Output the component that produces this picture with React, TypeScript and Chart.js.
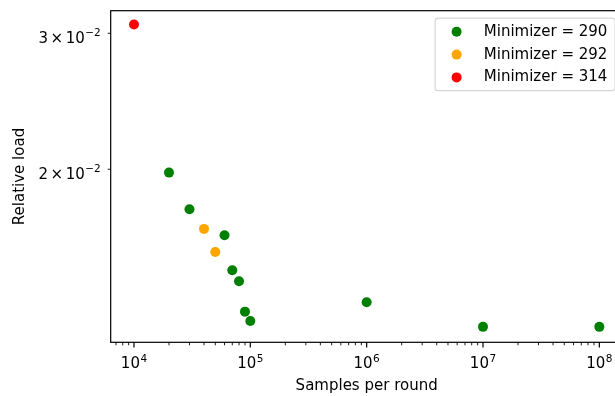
import React, { useEffect, useRef } from 'react';
import { Chart, registerables } from 'chart.js';

Chart.register(...registerables);

// ---- data ----
const samples290 = [2e4, 3e4, 6e4, 7e4, 8e4, 9e4, 1e5, 1e6, 1e7, 1e8];
const load290 = [0.0198, 0.01775, 0.01643, 0.0148, 0.01432, 0.01308, 0.01272, 0.01345, 0.0125, 0.0125];
const samples292 = [4e4, 5e4];
const load292 = [0.01674, 0.01563];
const samples314 = [1e4];
const load314 = [0.0308];

const seriesLabels = ['Minimizer = 290', 'Minimizer = 292', 'Minimizer = 314'];
const seriesColors = ['green', 'orange', 'red'];

const xMajorTicks = [1e4, 1e5, 1e6, 1e7, 1e8];
const xTickExponents = ['4', '5', '6', '7', '8'];
const xMinorMultipliers = [2, 3, 4, 5, 6, 7, 8, 9];
const yTicks = [0.02, 0.03];
const yTickMantissas = ['2', '3'];
const yTickExponent = '\u22122';

const xTitle = 'Samples per round';
const yTitle = 'Relative load';

const X_MIN = Math.pow(10, 3.8);
const X_MAX = Math.pow(10, 8.2);
const Y_MIN = 0.011937;
const Y_MAX = 0.03209;

const FONT = "'DejaVu Sans', sans-serif";
const FS = 15;
const SUP = 10.5;
const RAISE = 6.5;

type Piece = { t: string; s: number; dy?: number; gap?: number };

function drawMath(ctx: CanvasRenderingContext2D, pieces: Piece[], x: number, baseline: number, align: 'center' | 'right') {
  ctx.textAlign = 'left';
  ctx.textBaseline = 'alphabetic';
  const widths = pieces.map((p) => {
    ctx.font = `${p.s}px ${FONT}`;
    return ctx.measureText(p.t).width;
  });
  let total = 0;
  pieces.forEach((p, i) => (total += (p.gap || 0) + widths[i]));
  let cx = align === 'center' ? x - total / 2 : x - total;
  pieces.forEach((p, i) => {
    cx += p.gap || 0;
    ctx.font = `${p.s}px ${FONT}`;
    ctx.fillText(p.t, cx, baseline + (p.dy || 0));
    cx += widths[i];
  });
}

function buildMinorTicks(): number[] {
  const out: number[] = [];
  for (let e = 3; e <= 8; e++) {
    const d = Math.pow(10, e);
    for (const m of xMinorMultipliers) {
      const v = m * d;
      if (v > X_MIN && v < X_MAX) out.push(v);
    }
  }
  return out;
}

const decorPlugin = {
  id: 'decor',
  afterDraw(chart: any) {
    const ctx: CanvasRenderingContext2D = chart.ctx;
    const { left, right, top, bottom } = chart.chartArea;
    const xs = chart.scales.x;
    const ys = chart.scales.y;
    ctx.save();
    ctx.strokeStyle = '#000';
    ctx.fillStyle = '#000';

    // spines
    ctx.lineWidth = 1.2;
    ctx.strokeRect(left, top, right - left, bottom - top);

    // x ticks
    ctx.lineWidth = 1.2;
    xMajorTicks.forEach((v) => {
      const px = xs.getPixelForValue(v);
      ctx.beginPath();
      ctx.moveTo(px, bottom);
      ctx.lineTo(px, bottom + 5.25);
      ctx.stroke();
    });
    ctx.lineWidth = 0.9;
    buildMinorTicks().forEach((v) => {
      const px = xs.getPixelForValue(v);
      ctx.beginPath();
      ctx.moveTo(px, bottom);
      ctx.lineTo(px, bottom + 3);
      ctx.stroke();
    });
    // y ticks (minor)
    yTicks.forEach((v) => {
      const py = ys.getPixelForValue(v);
      ctx.beginPath();
      ctx.moveTo(left - 3, py);
      ctx.lineTo(left, py);
      ctx.stroke();
    });

    // x tick labels
    xMajorTicks.forEach((v, i) => {
      const px = xs.getPixelForValue(v);
      drawMath(ctx, [
        { t: '10', s: FS },
        { t: xTickExponents[i], s: SUP, dy: -RAISE, gap: 0.5 },
      ], px, bottom + 25.7, 'center');
    });
    // y tick labels
    yTicks.forEach((v, i) => {
      const py = ys.getPixelForValue(v);
      drawMath(ctx, [
        { t: yTickMantissas[i], s: FS },
        { t: '\u00d7', s: FS, gap: 2.5 },
        { t: '10', s: FS, gap: 2.5 },
        { t: yTickExponent, s: SUP, dy: -RAISE, gap: 0.5 },
      ], left - 10, py + 9.5, 'right');
    });

    // axis titles
    ctx.font = `${FS}px ${FONT}`;
    ctx.textAlign = 'center';
    ctx.textBaseline = 'alphabetic';
    ctx.fillText(xTitle, (left + right) / 2, 390);
    ctx.save();
    ctx.translate(24, (top + bottom) / 2);
    ctx.rotate(-Math.PI / 2);
    ctx.fillText(yTitle, 0, 0);
    ctx.restore();

    // legend
    const lw = 180;
    const lh = 72.5;
    const lx = right - 7.5 - lw;
    const ly = top + 7.5;
    ctx.beginPath();
    (ctx as any).roundRect(lx, ly, lw, lh, 3);
    ctx.fillStyle = 'rgba(255,255,255,0.8)';
    ctx.fill();
    ctx.strokeStyle = 'rgba(204,204,204,0.8)';
    ctx.lineWidth = 1.2;
    ctx.stroke();
    seriesLabels.forEach((lab, i) => {
      const my = ly + 13.6 + i * 22.8;
      ctx.beginPath();
      ctx.arc(lx + 21.5, my, 5, 0, Math.PI * 2);
      ctx.fillStyle = seriesColors[i];
      ctx.fill();
      ctx.fillStyle = '#000';
      ctx.font = `${FS}px ${FONT}`;
      ctx.textAlign = 'left';
      ctx.textBaseline = 'alphabetic';
      ctx.fillText(lab, lx + 48.7, ly + 17.6 + i * 22.8);
    });
    ctx.restore();
  },
};

function pts(xs: number[], ys: number[]) {
  return xs.map((x, i) => ({ x, y: ys[i] }));
}

export default function App() {
  const ref = useRef<HTMLCanvasElement>(null);
  useEffect(() => {
    document.body.style.margin = '0';
    const datasets = [
      [samples290, load290],
      [samples292, load292],
      [samples314, load314],
    ].map(([sx, sy], i) => ({
      label: seriesLabels[i],
      data: pts(sx as number[], sy as number[]),
      backgroundColor: seriesColors[i],
      borderColor: seriesColors[i],
      pointRadius: 5,
      pointBorderWidth: 0,
      pointHoverRadius: 5,
    }));
    const chart = new Chart(ref.current!, {
      type: 'scatter',
      data: { datasets },
      plugins: [decorPlugin],
      options: {
        animation: false,
        responsive: false,
        devicePixelRatio: 1,
        events: [],
        layout: { padding: { left: 0, top: 10.7, right: 17.4, bottom: 0 } },
        plugins: { legend: { display: false }, tooltip: { enabled: false } },
        scales: {
          x: {
            type: 'logarithmic',
            min: X_MIN,
            max: X_MAX,
            bounds: 'data',
            grid: { display: false, drawTicks: false },
            border: { display: false },
            ticks: { display: false },
            afterFit: (s: any) => { s.height = 53.7; },
          },
          y: {
            type: 'logarithmic',
            min: Y_MIN,
            max: Y_MAX,
            bounds: 'data',
            grid: { display: false, drawTicks: false },
            border: { display: false },
            ticks: { display: false },
            afterFit: (s: any) => { s.width = 110.7; },
          },
        },
      } as any,
    });
    return () => chart.destroy();
  }, []);
  return (
    <div style={{ width: 615, height: 396, overflow: 'hidden', background: '#fff' }}>
      <canvas ref={ref} width={640} height={396} style={{ display: 'block' }} />
    </div>
  );
}
